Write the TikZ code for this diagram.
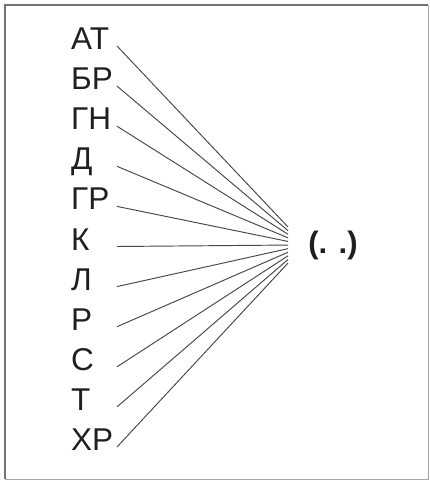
\documentclass[tikz,border=0pt]{standalone}
\usepackage{fontspec}
\setmainfont{Liberation Sans}
\begin{document}
\begin{tikzpicture}[x=1pt,y=-1pt,
  lbl/.style={anchor=west,inner sep=0pt,text height=0.716em,text depth=0pt,
    font=\fontsize{31.5}{31.5}\selectfont,text=black!88},
  ray/.style={draw=black!72,line width=0.95pt},
  res/.style={inner sep=0pt,font=\fontsize{31}{31}\selectfont\bfseries,text=black!88}]
\useasboundingbox (0,0) rectangle (430,482);
\fill[white] (0,0) rectangle (430,482);
% frame
\draw[black!35,line width=1pt] (5,479) -- (428,479) -- (428,5);
\draw[black!55,line width=1.8pt] (5,479) -- (5,5) -- (428,5);
% labels
\foreach \t [count=\i from 0] in {АТ,БР,ГН,Д,ГР,К,Л,Р,С,Т,ХР}{
  \pgfmathsetmacro{\yy}{46+40.1*\i}
  \pgfmathsetmacro{\ye}{245+(\yy-246)*0.09}
  \node[lbl] (l\i) at (71,\yy) {\t};
  \coordinate (s\i) at (117,\yy);
  \coordinate (e\i) at (288,\ye);
  \draw[ray] (s\i) -- (e\i);
}
\node[res] (r) at (333,245) {(. .)};
\end{tikzpicture}
\end{document}
